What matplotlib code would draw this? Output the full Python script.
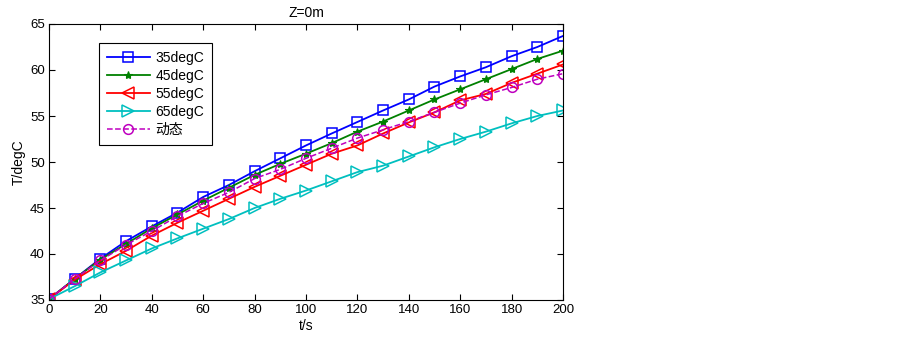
import matplotlib
matplotlib.use("Agg")
import matplotlib.pyplot as plt

t = [0, 10, 20, 30, 40, 50, 60, 70, 80, 90, 100, 110, 120, 130, 140, 150, 160, 170, 180, 190, 200]
T35 = [35.1, 37.3, 39.5, 41.4, 43.0, 44.5, 46.2, 47.5, 49.0, 50.4, 51.8, 53.1, 54.35, 55.6, 56.8, 58.2, 59.3, 60.3, 61.5, 62.5, 63.7]
T45 = [35.1, 37.3, 39.4, 41.1, 42.8, 44.3, 45.8, 47.2, 48.6, 49.8, 50.9, 52.05, 53.3, 54.4, 55.6, 56.8, 57.9, 59.0, 60.1, 61.2, 62.1]
T55 = [35.1, 37.2, 38.9, 40.35, 42.0, 43.4, 44.7, 46.0, 47.3, 48.5, 49.7, 50.9, 51.8, 53.1, 54.3, 55.4, 56.7, 57.4, 58.6, 59.6, 60.6]
T65 = [35.1, 36.5, 38.0, 39.3, 40.6, 41.7, 42.75, 43.8, 45.0, 46.0, 46.9, 47.9, 48.9, 49.6, 50.6, 51.6, 52.5, 53.3, 54.2, 55.0, 55.6]
Tdyn = [35.1, 37.3, 39.3, 41.0, 42.5, 44.1, 45.5, 46.7, 48.2, 49.2, 50.4, 51.5, 52.6, 53.5, 54.4, 55.4, 56.4, 57.3, 58.1, 59.0, 59.6]
labels = ["35degC", "45degC", "55degC", "65degC", "动态"]

plt.rcParams['font.family'] = ['Liberation Sans', 'Noto Sans CJK SC']

fig = plt.figure(figsize=(9.03, 3.41), dpi=100)
L, R, T, B = 49, 563, 24, 300
ax = fig.add_axes([L/903, 1-B/341, (R-L)/903, (B-T)/341])

ms = 7
ax.plot(t, T35, color='#0000ff', lw=1.3, marker='s', ms=ms, mfc='none', mew=1.1, label=labels[0])
ax.plot(t, T45, color='#008000', lw=1.3, marker='*', ms=6, mfc='#008000', mew=0.8, label=labels[1])
ax.plot(t, T55, color='#ff0000', lw=1.3, marker='<', ms=ms+1, mfc='none', mew=1.1, label=labels[2])
ax.plot(t, T65, color='#00bfbf', lw=1.3, marker='>', ms=ms+1, mfc='none', mew=1.1, label=labels[3])
ax.plot(t, Tdyn, color='#bf00bf', lw=1.1, ls='--', marker='o', ms=ms, mfc='none', mew=1.1, label=labels[4])

ax.set_xlim(0, 200)
ax.set_ylim(35, 65)
ax.set_xticks(range(0, 201, 20))
ax.set_yticks(range(35, 66, 5))
ax.tick_params(direction='in', top=True, right=True, labelsize=9.5, length=4, width=0.8, pad=3)
for s in ax.spines.values():
    s.set_linewidth(0.8)

ax.set_title("Z=0m", fontsize=10, pad=5)
ax.set_xlabel("t/s", fontsize=10, labelpad=2)
ax.set_ylabel("T/degC", fontsize=10, labelpad=3)

leg = ax.legend(loc='upper left', bbox_to_anchor=((99-L)/(R-L), (B-43)/(B-T)), borderaxespad=0,
                fancybox=False, edgecolor='black', framealpha=1, fontsize=10,
                handlelength=3.1, handletextpad=0.4, labelspacing=0.3, borderpad=0.55)
leg.get_frame().set_linewidth(0.8)

fig.savefig("out.png", dpi=100)
